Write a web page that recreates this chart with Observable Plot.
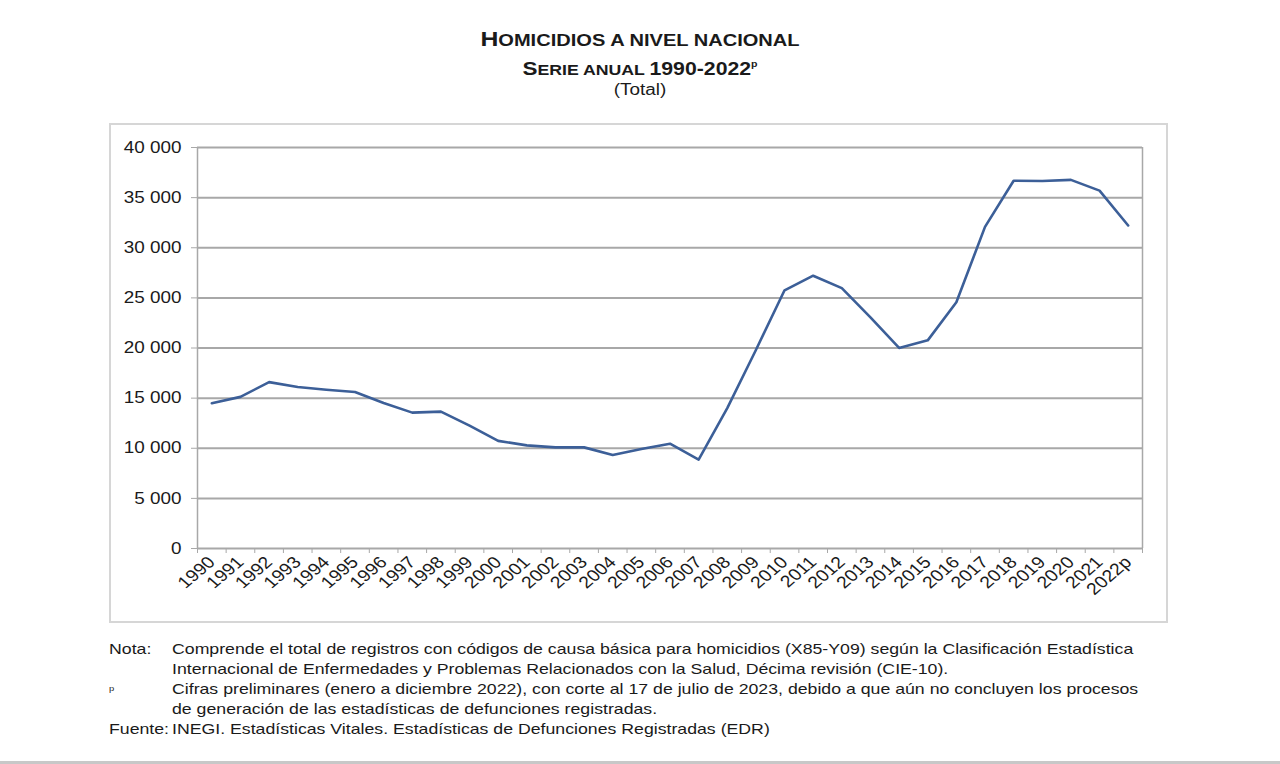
<!DOCTYPE html>
<html>
<head>
<meta charset="utf-8">
<script src="https://cdn.jsdelivr.net/npm/d3@7"></script>
<script src="https://cdn.jsdelivr.net/npm/@observablehq/plot@0.6"></script>
<style>
  html, body { margin: 0; padding: 0; background: #fff; }
  body { width: 1280px; height: 764px; position: relative; overflow: hidden; font-family: "Liberation Sans", Arial, sans-serif; color: #1a1a1a; }
  .t { position: absolute; left: 0; width: 1280px; text-align: center; transform: scaleX(1.18); transform-origin: 640px 0; white-space: nowrap; }
  .t1 { top: 27px; font-weight: bold; line-height: 24px; }
  .t2 { top: 52px; font-weight: bold; line-height: 24px; }
  .t1 .big { font-size: 21px; }
  .t1 .sm { font-size: 17px; }
  .t2 .big { font-size: 19px; }
  .t2 .sm { font-size: 15px; }
  .dig { font-size: 18px; }
  .t2 sup { font-size: 9px; vertical-align: 8px; }
  .t3 { top: 80px; font-size: 16px; line-height: 20px; }
  .frame { position: absolute; left: 109px; top: 123px; width: 1055px; height: 496px; border: 2px solid #d6d6d6; }
  #chart { position: absolute; left: 0; top: 123px; }
  .notes { position: absolute; left: 109px; top: 639px; font-size: 15px; line-height: 20px; color: #1a1a1a; transform: scaleX(1.18); transform-origin: 0 0; white-space: nowrap; }
  .row { display: flex; }
  .lab { width: 53.4px; flex: none; }
  .lab sup { font-size: 8px; }
  .bottomline { position: absolute; left: 0; top: 761px; width: 1280px; height: 3px; background: #c8c8c8; }
</style>
</head>
<body>
<div class="t t1"><span class="big">H</span><span class="sm">OMICIDIOS A NIVEL NACIONAL</span></div>
<div class="t t2"><span class="big">S</span><span class="sm">ERIE ANUAL </span><span class="dig">1990-2022</span><sup>p</sup></div>
<div class="t t3">(Total)</div>
<div class="frame"></div>
<div id="chart"></div>
<div class="notes">
  <div class="row"><div class="lab">Nota:</div><div>Comprende el total de registros con códigos de causa básica para homicidios (X85-Y09) según la Clasificación Estadística<br>Internacional de Enfermedades y Problemas Relacionados con la Salud, Décima revisión (CIE-10).</div></div>
  <div class="row"><div class="lab"><sup>p</sup></div><div>Cifras preliminares (enero a diciembre 2022), con corte al 17 de julio de 2023, debido a que aún no concluyen los procesos<br>de generación de las estadísticas de defunciones registradas.</div></div>
  <div class="row"><div class="lab">Fuente:</div><div>INEGI. Estadísticas Vitales. Estadísticas de Defunciones Registradas (EDR)</div></div>
</div>
<div class="bottomline"></div>
<script>
const years = ["1990","1991","1992","1993","1994","1995","1996","1997","1998","1999","2000","2001","2002","2003","2004","2005","2006","2007","2008","2009","2010","2011","2012","2013","2014","2015","2016","2017","2018","2019","2020","2021","2022p"];
const homicidios = [14493,15125,16594,16103,15839,15612,14505,13552,13656,12249,10737,10285,10088,10087,9329,9921,10452,8867,14006,19803,25757,27213,25967,23063,20010,20762,24559,32079,36685,36661,36773,35700,32223];
const yTicks = [0,5000,10000,15000,20000,25000,30000,35000,40000];

const data = years.map((y, i) => ({i, year: y, value: homicidios[i]}));
const idx = d3.range(years.length);
const bounds = d3.range(years.length + 1).map(k => k - 0.5);
const fmt = d => d === 0 ? "0" : d3.format(",")(d).replace(/,/g, " ");
const grid = "#a8a8a8";
const STRETCH = 1.18;

const chart = Plot.plot({
  width: 1280,
  height: 498,
  marginLeft: 197,
  marginRight: 138,
  marginTop: 24,
  marginBottom: 73,
  style: {fontFamily: "Liberation Sans, Arial, sans-serif", fontSize: "15px", color: "#1a1a1a", background: "transparent"},
  x: {type: "linear", domain: [-0.5, years.length - 0.5], axis: null},
  y: {domain: [0, 40000], axis: null},
  marks: [
    Plot.ruleY(yTicks, {stroke: grid, strokeWidth: 2}),
    Plot.ruleX([-0.5, years.length - 0.5], {stroke: grid, strokeWidth: 1.5}),
    Plot.axisY({ticks: yTicks, tickFormat: fmt, tickSize: 6, tickPadding: 10, stroke: grid, fontSize: 16, label: null}),
    Plot.axisX({ticks: bounds, tickFormat: () => "", tickSize: 5, stroke: grid, label: null}),
    Plot.axisX({ticks: idx, tickFormat: i => years[i], tickSize: 0, tickRotate: -45, tickPadding: 11, fontSize: 16.5, label: null}),
    Plot.line(data, {x: "i", y: "value", stroke: "#3c5f98", strokeWidth: 2.6})
  ]
});
chart.querySelectorAll("text").forEach(t => {
  const tr = t.getAttribute("transform");
  if (tr && /^translate\([^)]*\)/.test(tr)) {
    t.setAttribute("transform", tr.replace(/^(translate\([^)]*\))/, `$1 scale(${STRETCH},1)`));
  }
});
document.getElementById("chart").appendChild(chart);
</script>
</body>
</html>
